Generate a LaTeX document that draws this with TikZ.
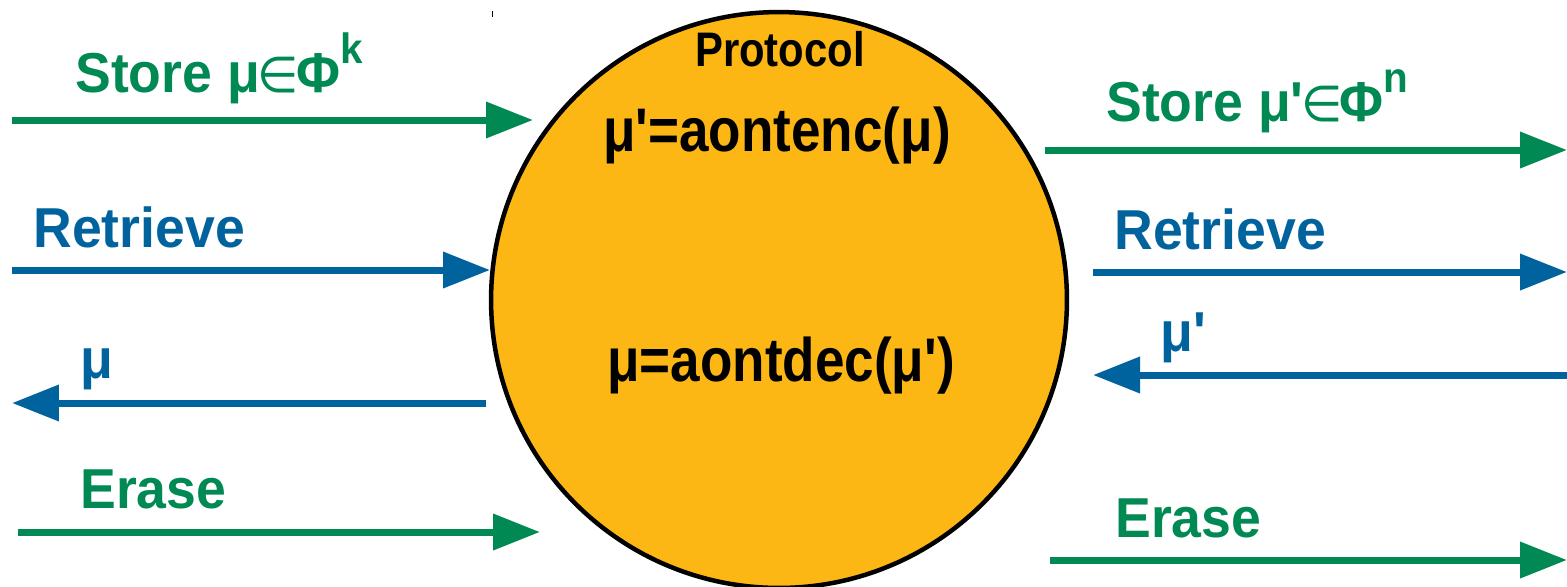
\documentclass[tikz,border=0pt]{standalone}
\usepackage{fontspec}
\usepackage{graphicx}
\usetikzlibrary{arrows.meta}
\newfontfamily\labfont{Liberation Sans}
\newfontfamily\symfont{DejaVu Sans}
\definecolor{pcGreen}{RGB}{0,137,82}
\definecolor{pcBlue}{RGB}{0,99,158}
\definecolor{pcOrange}{RGB}{252,183,21}
\newcommand{\tall}[1]{\scalebox{1}[1.16]{#1}}
\newcommand{\wide}[1]{\scalebox{1}[1.05]{#1}}
\newcommand{\upidx}[1]{\raisebox{0.5em}{\fontsize{23}{23}\selectfont #1}}
\newcommand{\elem}{\kern-1.5pt{\symfont\mdseries\fontsize{27}{30}\selectfont ∈}\kern-1.5pt}

\begin{document}
\begin{tikzpicture}[
  x=0.02cm, y=-0.02cm,
  lbl/.style={anchor=base west, inner sep=0pt, font=\labfont\bfseries\fontsize{30.5}{33}\selectfont},
  inlbl/.style={anchor=base, inner sep=0pt, font=\labfont\bfseries\fontsize{30.2}{33}\selectfont},
  arr/.style={-{Triangle[length=0.94cm, width=0.7cm]}, line width=0.14cm},
]
\useasboundingbox (0,0) rectangle (1567,586);
% protocol
\node[circle, draw, line width=0.09cm, fill=pcOrange, minimum size=11.52cm, inner sep=0pt] (proto) at (779,300) {};
\draw[line width=0.4pt] (492,11) -- (492,17);
\node[anchor=base, inner sep=0pt, font=\labfont\bfseries\fontsize{23.8}{26}\selectfont] (title) at (780,66) {\tall{Protocol}};
\node[inlbl] (enc) at (777,151) {\tall{μ'=aontenc(μ)}};
\node[inlbl] (dec) at (781,381) {\tall{μ=aontdec(μ')}};
% client side
\node[lbl, pcGreen] (lstore) at (75,92) {\wide{Store μ\elem Φ\upidx{k}}};
\node[lbl, pcBlue] (lret) at (33,247) {\wide{Retrieve}};
\node[lbl, pcBlue] (lmu) at (80,378) {\wide{μ}};
\node[lbl, pcGreen] (lerase) at (80,508) {\wide{Erase}};
\coordinate (a1) at (12,120);   \coordinate (b1) at (533,120);
\coordinate (a2) at (12,270);   \coordinate (b2) at (490,270);
\coordinate (a3) at (486,403);  \coordinate (b3) at (12,403);
\coordinate (a4) at (18,532);   \coordinate (b4) at (540,532);
\draw[arr, pcGreen] (a1) -- (b1);
\draw[arr, pcBlue] (a2) -- (b2);
\draw[arr, pcBlue] (a3) -- (b3);
\draw[arr, pcGreen] (a4) -- (b4);
% server side
\node[lbl, pcGreen] (rstore) at (1106,121) {\wide{Store μ'\elem Φ\upidx{n}}};
\node[lbl, pcBlue] (rret) at (1114,249) {\wide{Retrieve}};
\node[lbl, pcBlue] (rmu) at (1160,351) {\wide{μ'}};
\node[lbl, pcGreen] (rerase) at (1115,537) {\wide{Erase}};
\coordinate (c1) at (1045,150); \coordinate (d1) at (1567,150);
\coordinate (c2) at (1093,272); \coordinate (d2) at (1567,272);
\coordinate (c3) at (1567,375); \coordinate (d3) at (1093,375);
\coordinate (c4) at (1050,560); \coordinate (d4) at (1567,560);
\draw[arr, pcGreen] (c1) -- (d1);
\draw[arr, pcBlue] (c2) -- (d2);
\draw[arr, pcBlue] (c3) -- (d3);
\draw[arr, pcGreen] (c4) -- (d4);
\end{tikzpicture}
\end{document}
